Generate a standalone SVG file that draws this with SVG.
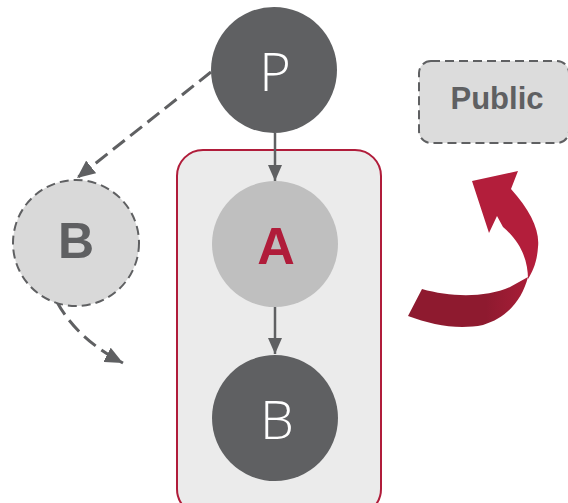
<svg xmlns="http://www.w3.org/2000/svg" width="568" height="503" viewBox="0 0 568 503">
  <defs>
    <style>
      .dark { fill: #5f6062; }
      .lbl-white { fill: #ffffff; font-family: "Open Sans", "Liberation Sans", sans-serif; font-weight: 350; font-size: 54px; text-anchor: middle; }
      .lbl-bold { font-family: "Liberation Sans", Arial, sans-serif; font-weight: bold; text-anchor: middle; }
      .dash { fill: none; stroke: #5f6062; stroke-width: 3; stroke-dasharray: 15 7; }
      .solid { fill: none; stroke: #5f6062; stroke-width: 2.5; }
    </style>
    <marker id="head" viewBox="0 0 16 14" refX="16" refY="7" markerWidth="16" markerHeight="14" markerUnits="userSpaceOnUse" orient="auto">
      <path d="M0,0 L16,7 L0,14 Z" fill="#5f6062"/>
    </marker>
    <marker id="head-lg" viewBox="0 0 18 16" refX="18" refY="8" markerWidth="18" markerHeight="16" markerUnits="userSpaceOnUse" orient="auto">
      <path d="M0,0 L18,8 L0,16 Z" fill="#5f6062"/>
    </marker>
    <linearGradient id="ribbonLow" x1="1" y1="0" x2="0" y2="0">
      <stop offset="0" stop-color="#a81d37"/>
      <stop offset="0.35" stop-color="#8e1a2f"/>
      <stop offset="1" stop-color="#8e1a2f"/>
    </linearGradient>
  </defs>

  <!-- container holding A and B -->
  <g id="container">
    <rect x="177" y="150" width="204" height="365" rx="26" fill="#ebebeb" stroke="#b01c3a" stroke-width="2"/>
  </g>

  <!-- connectors -->
  <g id="connectors">
    <path class="dash" d="M211,72 L77,178" marker-end="url(#head-lg)"/>
    <path class="dash" d="M57,302 C70,326 92,347 123,363" marker-end="url(#head-lg)"/>
    <path class="solid" d="M275,133 L275,181" marker-end="url(#head)"/>
    <path class="solid" d="M275,307 L275,354" marker-end="url(#head)"/>
  </g>

  <g id="node-p">
    <circle class="dark" cx="274" cy="70" r="63"/>
    <text class="lbl-white" x="275" y="91">P</text>
  </g>

  <g id="node-a">
    <circle cx="275" cy="244" r="63" fill="#bfbfbf"/>
    <text class="lbl-bold" x="276" y="264" font-size="52" fill="#b01c3a">A</text>
  </g>

  <g id="node-b">
    <circle class="dark" cx="275" cy="418" r="63"/>
    <text class="lbl-white" x="277" y="439">B</text>
  </g>

  <g id="node-b-ghost">
    <circle cx="76" cy="243" r="63" fill="#d9d9d9" stroke="#5f6062" stroke-width="2" stroke-dasharray="9 5"/>
    <text class="lbl-bold" x="76" y="258" font-size="50" fill="#5f6062">B</text>
  </g>

  <g id="node-public">
    <rect x="419" y="61" width="150" height="82" rx="12" fill="#dcdcdc" stroke="#5f6062" stroke-width="2" stroke-dasharray="9 5"/>
    <text class="lbl-bold" x="497" y="109" font-size="31" fill="#5f6062">Public</text>
  </g>

  <!-- curled ribbon arrow -->
  <g id="curl-arrow">
    <path fill="url(#ribbonLow)" d="M422,289 C450,297 485,298 510,287 L528,277 C522,300 507,318 483,325 C458,330 432,325 408,316 Z"/>
    <path fill="#b31e3b" d="M472,181 L518,171 L511,189 C530,210 540,230 538,247 C537,262 533,271 528,279 C528,262 522,243 503,227 L497,216 L489,233 Z"/>
  </g>
</svg>
